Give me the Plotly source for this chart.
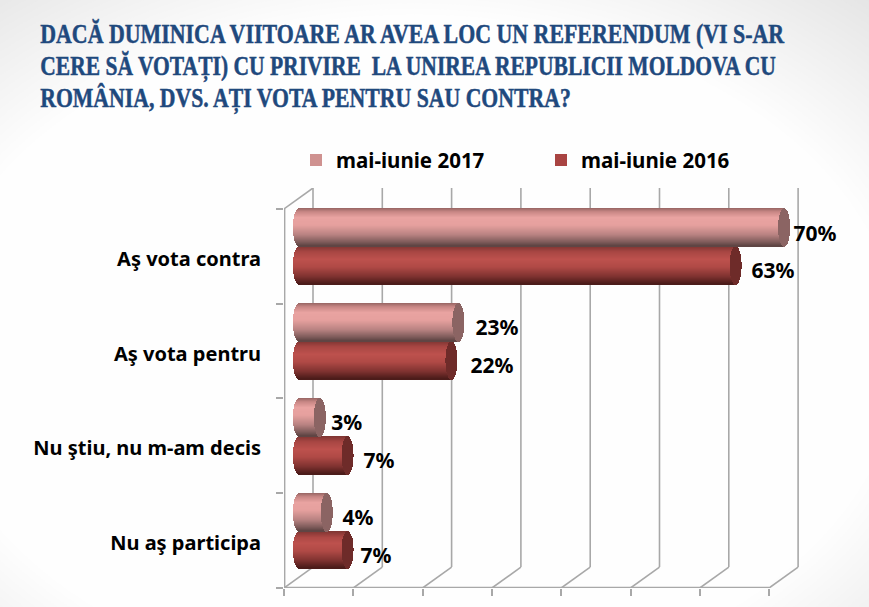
import json
import plotly.graph_objects as go

# ---- data ----
categories = ["Aş vota contra", "Aş vota pentru", "Nu ştiu, nu m-am decis", "Nu aş participa"]
series_names = ["mai-iunie 2017", "mai-iunie 2016"]
values_2017 = [70, 23, 3, 4]
values_2016 = [63, 22, 7, 7]
title_lines = [
    "DACĂ DUMINICA VIITOARE AR AVEA LOC UN REFERENDUM (VI S-AR",
    "CERE SĂ VOTAȚI) CU PRIVIRE  LA UNIREA REPUBLICII MOLDOVA CU",
    "ROMÂNIA, DVS. AȚI VOTA PENTRU SAU CONTRA?",
]

# ---- layout geometry (pixels) ----
W, H = 869, 607
PL, PR, PT, PB = 284, 830, 188, 590
PX_PER_UNIT = 6.93          # horizontal scale
X_ZERO_PX = 299             # pixel of value 0 (centre of the cylinder's left end)
GROUP_PX = 95.25            # height of one category band
Y0_PX = 209
DEPTH_X_PX, DEPTH_Y_PX = 29, 21
BAR_PX = 38
CAP_A_PX = 6

x_range = [(PL - X_ZERO_PX) / PX_PER_UNIT, (PR - X_ZERO_PX) / PX_PER_UNIT]
y_range = [(PB - Y0_PX) / GROUP_PX, (PT - Y0_PX) / GROUP_PX]
px_x = lambda p: p / PX_PER_UNIT
px_y = lambda p: p / GROUP_PX
paper_x = lambda p: (p - PL) / (PR - PL)
paper_y = lambda p: (PB - p) / (PB - PT)

# ---- styles ----
GREY = "#a8a8a8"
LABEL_FONT = "Noto Sans"
light_stops = [(0, (150, 100, 98)), (.1, (200, 135, 133)), (.25, (233, 163, 161)), (.45, (230, 160, 158)),
               (.7, (185, 131, 130)), (.9, (125, 90, 89)), (1, (90, 66, 65))]
dark_stops = [(0, (125, 52, 50)), (.15, (168, 70, 67)), (.35, (189, 81, 77)), (.55, (176, 74, 70)),
              (.8, (127, 50, 48)), (1, (72, 26, 24))]
light_cap = "#8b6463"
dark_cap = "#6e2b29"
legend_colors = ["#cf9290", "#a94442"]
label_nudge_px = [[9.5, 17, 11.5, 15.8], [16, 19, 16, 13]]
title_widths_px = [745, 736, 531]


def shade(stops, t):
    for (t0, c0), (t1, c1) in zip(stops, stops[1:]):
        if t <= t1:
            f = (t - t0) / (t1 - t0)
            r, g, b = [round(a + (b - a) * f) for a, b in zip(c0, c1)]
            return f"rgb({r},{g},{b})"
    return f"rgb{stops[-1][1]}"


def cylinder_traces(values, offset_px, stops, cap_color):
    ys, base, length, cols = [], [], [], []
    cy, cbase, clen = [], [], []
    for i, v in enumerate(values):
        for k in range(BAR_PX):
            t = (k + .5) / BAR_PX
            half = CAP_A_PX * (1 - (2 * t - 1) ** 2) ** .5
            a = px_x(half)
            y = i + px_y(offset_px + k + .5)
            ys.append(y); base.append(-a); length.append(v + 2 * a); cols.append(shade(stops, t))
            cy.append(y); cbase.append(v - a); clen.append(2 * a)
    common = dict(orientation="h", width=px_y(1.02), showlegend=False, hoverinfo="skip")
    return [
        go.Bar(y=ys, x=length, base=base, marker=dict(color=cols, line_width=0), **common),
        go.Bar(y=cy, x=clen, base=cbase, marker=dict(color=cap_color, line_width=0), **common),
    ]


fig = go.Figure()
fig.add_traces(cylinder_traces(values_2016, BAR_PX, dark_stops, dark_cap))
fig.add_traces(cylinder_traces(values_2017, 0, light_stops, light_cap))

# data labels
for s, (vals, nudge) in enumerate(zip([values_2017, values_2016], label_nudge_px)):
    fig.add_trace(go.Scatter(
        x=[v + px_x(n) for v, n in zip(vals, nudge)],
        y=[i + px_y(BAR_PX * s + BAR_PX / 2 + 7.5) for i in range(len(vals))],
        mode="text", text=[f"{v}%" for v in vals], textposition="middle right",
        textfont=dict(family=LABEL_FONT, size=21, color="black", weight=700),
        showlegend=False, hoverinfo="skip", cliponaxis=False))

# legend entries
for name, col in zip(series_names, legend_colors):
    fig.add_trace(go.Scatter(x=[None], y=[None], mode="markers", name=name,
                             marker=dict(symbol="square", size=12, color=col)))

# ---- vignette background ----
shapes = []
n_rings = 27
CX, CY = W / 2 - 20, H / 2 + 50
for k in range(n_rings):
    r = 1.6 - k * (1.6 - 1.12) / (n_rings - 1)
    g = 228 + k
    shapes.append(dict(type="circle", xref="paper", yref="paper", layer="below",
                       x0=paper_x(CX - r * W / 2), x1=paper_x(CX + r * W / 2),
                       y0=paper_y(CY + r * H / 2), y1=paper_y(CY - r * H / 2),
                       fillcolor=f"rgb({g},{g},{g})", line_width=0))

# ---- 3D frame: back wall, floor, and side wall drawn from the axis ticks ----
x_ticks = [x_range[0] + 10 * k for k in range(8)]
dx, dy = px_x(DEPTH_X_PX), px_y(DEPTH_Y_PX)
n_groups = len(categories)
wall = dict(type="line", xref="x", yref="y", layer="below", line=dict(color=GREY, width=1.6))
for t in x_ticks:
    shapes.append(dict(wall, x0=t + dx, x1=t + dx, y0=-dy, y1=n_groups - dy))
    shapes.append(dict(wall, x0=t, x1=t + dx, y0=n_groups, y1=n_groups - dy))
shapes.append(dict(wall, x0=x_ticks[0], x1=x_ticks[-1], y0=n_groups, y1=n_groups, line=dict(color=GREY, width=2.4)))
shapes.append(dict(wall, x0=x_ticks[0], x1=x_ticks[0], y0=0, y1=n_groups, line=dict(color=GREY, width=2.8)))
shapes.append(dict(wall, x0=x_ticks[0], x1=x_ticks[0] + dx, y0=0, y1=-dy))

# ---- title ----
annotations = [
    dict(text=line, xref="paper", yref="paper", x=paper_x(38), y=paper_y(33 + 32.5 * i),
         xanchor="left", yanchor="middle", showarrow=False,
         font=dict(family="Liberation Serif", size=28, color="#1f497d", weight=700))
    for i, line in enumerate(title_lines)
]

fig.update_layout(
    width=W, height=H, autosize=False,
    margin=dict(l=PL, r=W - PR, t=PT, b=H - PB, pad=0),
    paper_bgcolor="#e4e4e4", plot_bgcolor="rgba(0,0,0,0)",
    barmode="overlay", bargap=0,
    shapes=shapes, annotations=annotations,
    legend=dict(orientation="h", xref="paper", yref="paper", x=paper_x(296), y=paper_y(140),
                xanchor="left", yanchor="top", entrywidth=200, entrywidthmode="pixels",
                itemwidth=30, bgcolor="rgba(0,0,0,0)", traceorder="normal",
                font=dict(family=LABEL_FONT, size=20.5, color="black", weight=700)),
    xaxis=dict(range=x_range, showgrid=False, zeroline=False, showline=False,
               tickmode="array", tickvals=x_ticks, ticks="outside", ticklen=7, tickwidth=1.5, tickcolor=GREY,
               showticklabels=False, fixedrange=True),
    yaxis=dict(range=y_range, showgrid=False, zeroline=False, showline=False,
               tickmode="array", tickvals=[i + .5 + px_y(2.5) for i in range(n_groups)], ticktext=categories,
               ticks="", ticklabelstandoff=22,
               tickfont=dict(family=LABEL_FONT, size=20, color="black", weight=700),
               minor=dict(tickmode="array", tickvals=list(range(n_groups + 1)), ticks="outside",
                          ticklen=7, tickwidth=1.5, tickcolor=GREY, showgrid=False),
               fixedrange=True),
)

# condense the title glyphs to the reference's line widths (the text stays real text)
post = (
    "document.body.style.margin='0';document.documentElement.style.overflow='hidden';"
    "var w=" + json.dumps(title_widths_px) + ";"
    "document.querySelectorAll('.annotation-text').forEach(function(t,i){"
    "var b=t.getBBox();var s=w[i]/b.width;"
    "t.setAttribute('transform','translate('+b.x+',0) scale('+s+',1) translate('+(-b.x)+',0)');"
    "t.style.stroke='#1f497d';t.style.strokeWidth='0.5px';});"
)
fig.write_html("out.html", config=dict(displayModeBar=False), post_script=post)
